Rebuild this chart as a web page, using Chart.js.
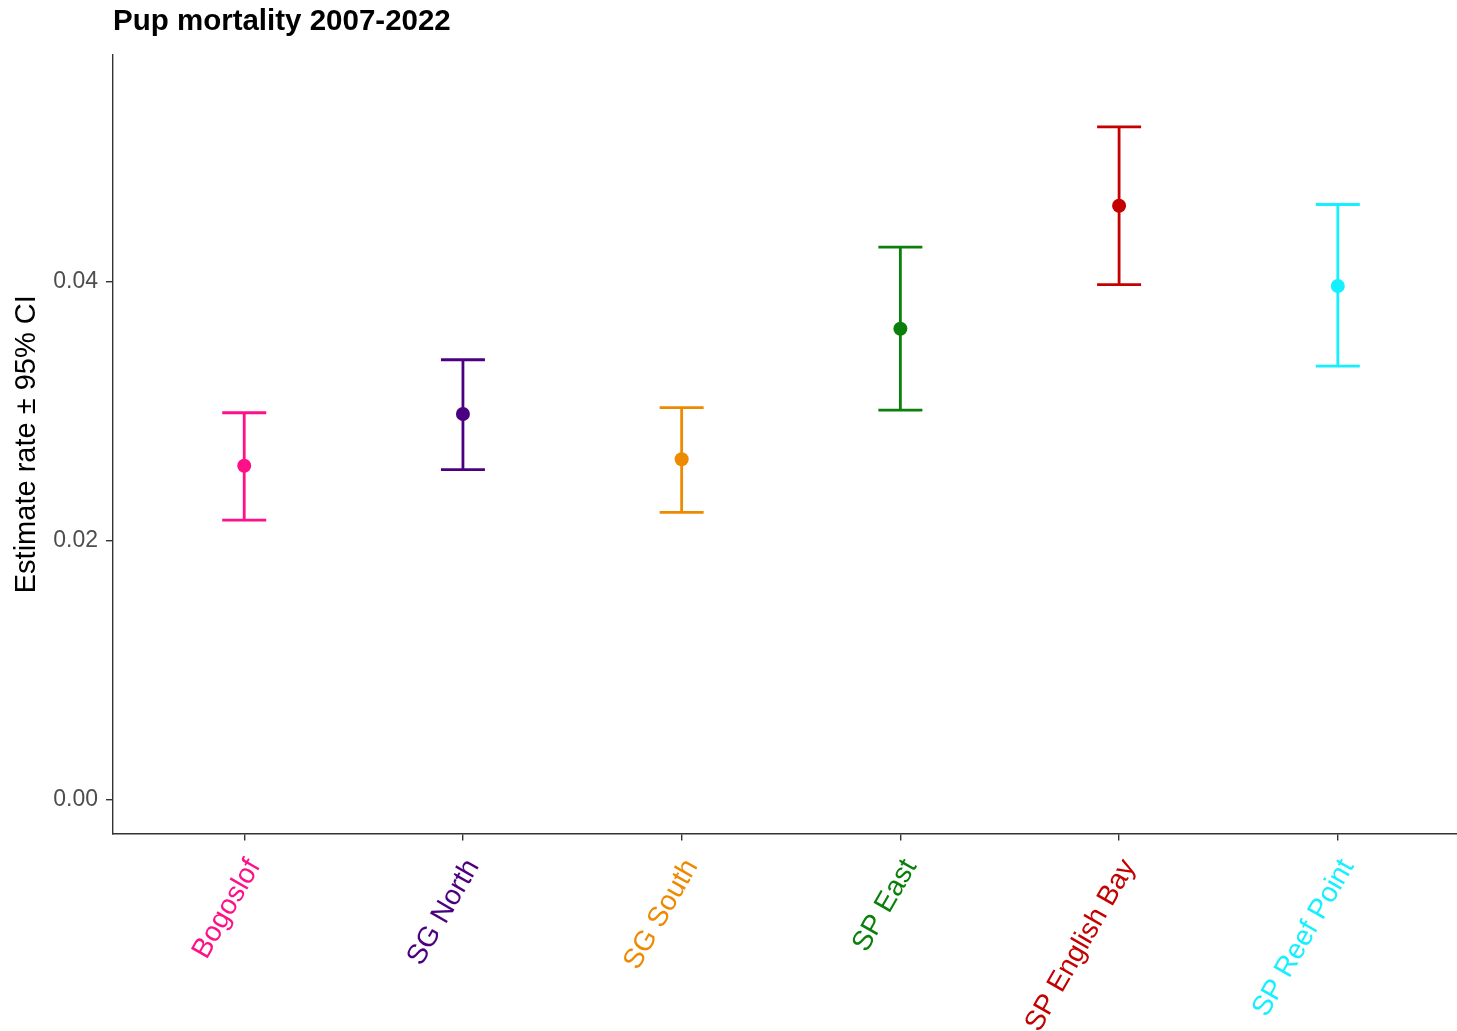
<!DOCTYPE html>
<html>
<head>
<meta charset="utf-8">
<title>Pup mortality 2007-2022</title>
<script src="https://cdn.jsdelivr.net/npm/chart.js@4/dist/chart.umd.min.js"></script>
<style>
  html, body { margin: 0; padding: 0; background: #ffffff; }
  #wrap { width: 1457px; height: 1031px; }
</style>
</head>
<body>
<div id="wrap"><canvas id="chart" width="1457" height="1031"></canvas></div>
<script>
// Rookery sites along the x axis
const sites = ['Bogoslof', 'SG North', 'SG South', 'SP East', 'SP English Bay', 'SP Reef Point'];
// Estimated pup mortality rate per site
const estimate = [0.0258, 0.0298, 0.0263, 0.0364, 0.0459, 0.0397];
// 95% confidence interval bounds
const lowerCI = [0.0216, 0.0255, 0.0222, 0.0301, 0.0398, 0.0335];
const upperCI = [0.0299, 0.0340, 0.0303, 0.0427, 0.0520, 0.0460];
// One colour per site
const siteColors = ['#FF1088', '#4B0082', '#EE8A00', '#0A800A', '#C40000', '#14F0FF'];
// Y axis ticks
const yTicks = [0, 0.02, 0.04];
const yTickLabels = ['0.00', '0.02', '0.04'];

const FONT = '"Liberation Sans", Arial, Helvetica, sans-serif';
const AXIS_COLOR = '#333333';

// Vertical whisker with caps for each site
const whiskerSets = sites.map((s, i) => ({
  label: s + ' CI',
  data: [{ x: i, y: lowerCI[i] }, { x: i, y: upperCI[i] }],
  showLine: true,
  borderColor: siteColors[i],
  borderWidth: 2.8,
  pointStyle: 'line',
  pointRadius: 22,
  pointHoverRadius: 22,
  pointBorderColor: siteColors[i],
  pointBorderWidth: 2.8,
  pointBackgroundColor: siteColors[i],
  order: 2
}));

// Point estimates drawn on top of the whiskers
const estimateSet = {
  label: 'Estimate',
  data: sites.map((s, i) => ({ x: i, y: estimate[i] })),
  showLine: false,
  pointStyle: 'circle',
  pointRadius: 7,
  pointHoverRadius: 7,
  pointBackgroundColor: siteColors,
  pointBorderColor: siteColors,
  pointBorderWidth: 0,
  order: 1
};

// Plot title aligned with the left edge of the panel
const panelTitle = {
  id: 'panelTitle',
  afterDraw(chart) {
    const ctx = chart.ctx;
    ctx.save();
    ctx.font = 'bold 29.5px ' + FONT;
    ctx.fillStyle = '#000000';
    ctx.textAlign = 'left';
    ctx.textBaseline = 'middle';
    ctx.fillText('Pup mortality 2007-2022', chart.chartArea.left, 22);
    ctx.restore();
  }
};

new Chart(document.getElementById('chart'), {
  type: 'scatter',
  data: { datasets: [estimateSet, ...whiskerSets] },
  plugins: [panelTitle],
  options: {
    responsive: false,
    animation: false,
    events: [],
    layout: { autoPadding: false, padding: { top: 55, right: 0, bottom: 0, left: 0 } },
    plugins: {
      legend: { display: false },
      tooltip: { enabled: false },
      title: { display: false }
    },
    scales: {
      x: {
        type: 'linear',
        min: -0.6,
        max: 5.545,
        afterBuildTicks(scale) {
          scale.ticks = sites.map((s, i) => ({ value: i }));
        },
        afterFit(scale) {
          scale.height = 197.5;
          scale.paddingLeft = 0;
          scale.paddingRight = 0;
        },
        border: { display: true, color: AXIS_COLOR, width: 1.4 },
        grid: { drawOnChartArea: false, drawTicks: true, tickLength: 7, color: AXIS_COLOR, lineWidth: 1.4 },
        ticks: {
          autoSkip: false,
          minRotation: 60,
          maxRotation: 60,
          padding: 13,
          labelOffset: 10,
          font: { family: FONT, size: 28 },
          color: (ctx) => siteColors[ctx.index],
          callback: (value) => sites[value]
        }
      },
      y: {
        type: 'linear',
        min: -0.00263,
        max: 0.05756,
        afterBuildTicks(scale) {
          scale.ticks = yTicks.map(v => ({ value: v }));
        },
        afterFit(scale) { scale.width = 113; },
        border: { display: true, color: AXIS_COLOR, width: 1.4 },
        grid: { drawOnChartArea: false, drawTicks: true, tickLength: 7, color: AXIS_COLOR, lineWidth: 1.4 },
        title: {
          display: true,
          text: 'Estimate rate \u00b1 95% CI',
          color: '#000000',
          font: { family: FONT, size: 29 },
          padding: { top: 10, bottom: 0 }
        },
        ticks: {
          padding: 8,
          font: { family: FONT, size: 23 },
          color: '#4D4D4D',
          callback: (value) => yTickLabels[yTicks.indexOf(value)]
        }
      }
    }
  }
});
</script>
</body>
</html>
